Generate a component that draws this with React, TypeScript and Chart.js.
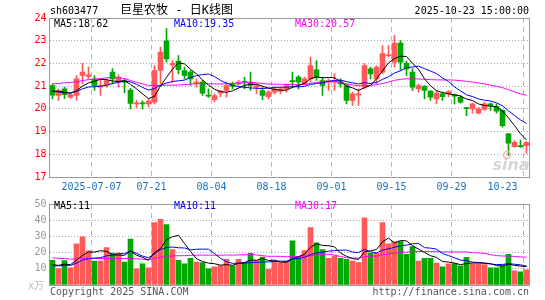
import React, { useEffect, useRef } from 'react';
import { Chart, registerables } from 'chart.js';

Chart.register(...registerables);

// ---------------- data ----------------
const stockCode = 'sh603477';
const chartTitle = '巨星农牧 - 日K线图';
const timestamp = '2025-10-23 15:00:00';

const dates = [
  '2025-06-26', '2025-06-27', '2025-06-30',
  '2025-07-01', '2025-07-02', '2025-07-03', '2025-07-04', '2025-07-07', '2025-07-08', '2025-07-09', '2025-07-10',
  '2025-07-11', '2025-07-14', '2025-07-15', '2025-07-16', '2025-07-17', '2025-07-18', '2025-07-21', '2025-07-22',
  '2025-07-23', '2025-07-24', '2025-07-25', '2025-07-28', '2025-07-29', '2025-07-30', '2025-07-31',
  '2025-08-01', '2025-08-04', '2025-08-05', '2025-08-06', '2025-08-07', '2025-08-08', '2025-08-11', '2025-08-12',
  '2025-08-13', '2025-08-14', '2025-08-15', '2025-08-18', '2025-08-19', '2025-08-20', '2025-08-21', '2025-08-22',
  '2025-08-25', '2025-08-26', '2025-08-27', '2025-08-28', '2025-08-29',
  '2025-09-01', '2025-09-02', '2025-09-03', '2025-09-04', '2025-09-05', '2025-09-08', '2025-09-09', '2025-09-10',
  '2025-09-11', '2025-09-12', '2025-09-15', '2025-09-16', '2025-09-17', '2025-09-18', '2025-09-19', '2025-09-22',
  '2025-09-23', '2025-09-24', '2025-09-25', '2025-09-26', '2025-09-29', '2025-09-30',
  '2025-10-09', '2025-10-10', '2025-10-13', '2025-10-14', '2025-10-15', '2025-10-16', '2025-10-17', '2025-10-20',
  '2025-10-21', '2025-10-22', '2025-10-23',
];

const opens = [
  21.03, 20.59, 20.88, 20.51, 20.59, 21.47, 21.43, 21.32, 20.96, 21.03,
  21.62, 21.18, 21.25, 20.83, 20.22, 20.25, 20.22, 20.29, 21.69, 23.00,
  21.93, 22.10, 21.69, 21.62, 21.12, 21.18, 20.60, 20.40, 20.69, 20.81,
  21.07, 21.10, 21.20, 21.18, 20.96, 20.81, 20.54, 20.74, 20.78, 20.88,
  21.24, 21.40, 21.10, 21.32, 21.72, 21.25, 21.18, 21.18, 21.20, 21.03,
  20.37, 20.60, 20.96, 21.76, 21.32, 21.62, 22.34, 22.06, 22.90, 22.00,
  21.62, 20.88, 20.99, 20.78, 20.44, 20.66, 20.66, 20.62, 20.51, 20.04,
  20.00, 19.81, 19.97, 20.22, 20.10, 19.93, 18.90, 18.34, 18.37, 18.38,
];
const highs = [
  21.10, 20.88, 20.95, 20.66, 21.47, 22.00, 21.84, 21.47, 21.32, 21.32,
  21.77, 21.50, 21.30, 20.90, 20.37, 20.35, 20.44, 21.91, 22.72, 23.53,
  22.13, 22.35, 21.84, 21.69, 21.32, 21.25, 20.88, 20.66, 20.81, 21.18,
  21.18, 21.25, 21.40, 21.62, 21.10, 20.96, 20.81, 20.96, 20.96, 21.10,
  21.62, 21.47, 21.40, 22.28, 22.13, 21.40, 21.32, 21.55, 21.32, 21.10,
  20.74, 20.88, 21.99, 21.84, 21.91, 22.79, 22.79, 23.24, 23.01, 22.10,
  21.77, 21.10, 21.03, 20.81, 20.81, 20.74, 20.81, 20.66, 20.59, 20.04,
  20.25, 20.07, 20.29, 20.25, 20.22, 19.96, 18.92, 18.60, 18.62, 18.56,
];
const lows = [
  20.44, 20.37, 20.45, 20.46, 20.37, 21.10, 21.32, 20.81, 20.59, 20.96,
  21.10, 20.96, 20.70, 20.00, 20.04, 20.00, 20.07, 20.22, 21.10, 22.06,
  21.18, 21.54, 21.32, 21.03, 20.96, 20.59, 20.50, 20.30, 20.54, 20.51,
  20.88, 21.03, 20.88, 20.81, 20.66, 20.40, 20.44, 20.66, 20.66, 20.74,
  20.96, 20.88, 21.07, 21.18, 21.25, 20.59, 20.81, 20.81, 20.96, 20.22,
  20.15, 20.15, 20.88, 21.32, 21.10, 21.54, 22.28, 21.84, 21.69, 21.47,
  20.81, 20.74, 20.44, 20.37, 20.22, 20.37, 20.54, 20.22, 20.25, 19.70,
  19.81, 19.78, 19.93, 19.93, 19.81, 19.19, 17.95, 18.31, 18.30, 18.04,
];
const closes = [
  20.60, 20.81, 20.63, 20.63, 21.32, 21.62, 21.50, 21.03, 21.03, 21.25,
  21.32, 21.40, 21.18, 20.24, 20.27, 20.22, 20.34, 21.69, 22.50, 22.20,
  22.00, 21.72, 21.47, 21.32, 21.18, 20.69, 20.56, 20.59, 20.78, 21.03,
  21.00, 21.18, 21.17, 21.03, 21.03, 20.59, 20.74, 20.88, 20.88, 21.03,
  21.20, 21.18, 21.32, 21.91, 21.40, 21.03, 21.25, 21.25, 21.10, 20.37,
  20.66, 20.66, 21.91, 21.54, 21.84, 22.43, 22.37, 22.90, 22.06, 21.76,
  20.96, 21.03, 20.81, 20.51, 20.69, 20.54, 20.76, 20.56, 20.29, 20.01,
  20.22, 20.00, 20.22, 20.15, 19.90, 19.26, 18.49, 18.53, 18.34, 18.53,
];
// volume, unit 万
const volumes = [
  15.3, 10.2, 15.1, 10.6, 25.4, 29.8, 21.1, 14.8, 14.8, 23.1,
  19.7, 19.7, 14.2, 28.4, 10.0, 13.0, 10.6, 38.5, 40.5, 37.3,
  21.9, 15.3, 13.0, 16.5, 14.2, 13.8, 10.0, 11.2, 12.0, 15.9,
  11.8, 15.9, 13.8, 19.5, 15.3, 17.3, 9.6, 14.8, 13.8, 14.8,
  27.2, 17.3, 21.3, 35.5, 26.0, 21.9, 16.5, 17.9, 16.5, 15.9,
  14.8, 13.8, 41.5, 19.5, 19.9, 38.5, 25.4, 26.6, 26.8, 18.9,
  23.7, 14.8, 16.5, 16.5, 13.6, 11.2, 13.0, 13.2, 11.8, 17.1,
  13.0, 13.0, 12.6, 10.6, 10.6, 11.8, 18.9, 8.8, 8.2, 9.4,
];
// sessions before the visible window (estimated), used only for the moving averages
const priorCloses = [
  20.1, 20.0, 20.2, 20.3, 20.1, 20.2, 20.4, 20.3, 20.2,
  21.0, 21.6, 22.3, 22.8, 22.6, 22.4, 22.5, 22.2, 21.9, 21.8, 22.0,
  21.5, 21.0, 20.7, 20.6, 20.5,
  20.7, 20.9, 20.8, 20.8,
];
const priorVolumes = [
  16, 22, 18, 25, 20, 17, 15, 19, 24, 21, 18, 16, 20, 23, 19, 17, 18, 20, 17, 17,
  11.0, 12.0, 10.5, 11.5, 11.5,
  12.0, 11.5, 12.2, 11.5,
];

const priceTicks = [17, 18, 19, 20, 21, 22, 23, 24];
const volumeTicks = [0, 10, 20, 30, 40, 50];
const labelIndexes = [7, 17, 27, 37, 47, 57, 67, 79];
const maPeriods = [5, 10, 30];
const priceLegend = ['MA5:18.62', 'MA10:19.35', 'MA30:20.57'];
const volumeLegend = ['MA5:11', 'MA10:11', 'MA30:17'];
const volumeUnit = 'x万';
const copyright = 'Copyright 2025 SINA.COM';
const siteUrl = 'http://finance.sina.com.cn';

// ---------------- styling ----------------
const W = 545;
const MAIN_H = 195;
const VOL_H = 105;
const PLOT_LEFT = 49.5;
const RIGHT_PAD = 15.5;
const MONO = '"DejaVu Sans Mono", monospace';
const UP = '#ff5a5a';
const DOWN = '#00a800';
const MA_COLORS = ['#000000', '#0000ff', '#ff00ff'];
const LEGEND_X = [54, 174, 295];

function movingAverage(values: number[], prior: number[], n: number): number[] {
  const all = [...prior, ...values];
  return values.map((_, i) => {
    const end = prior.length + i;
    let s = 0;
    for (let k = end - n + 1; k <= end; k++) s += all[k];
    return s / n;
  });
}

const xOf = (i: number) => i + 0.5;
const candleColors = opens.map((o, i) => (closes[i] >= o ? UP : DOWN));

function xScale() {
  return {
    type: 'linear',
    min: 0,
    max: dates.length,
    offset: false,
    afterBuildTicks: (s: any) => {
      s.ticks = labelIndexes.map((v) => ({ value: v }));
    },
    afterFit: (s: any) => {
      s.height = 0;
    },
    ticks: { display: false },
    grid: { color: '#b8b8b8', drawTicks: false, offset: false, lineWidth: 1 },
    border: { display: true, color: '#999999', dash: [5, 4] },
  };
}

function yScale(min: number, max: number, ticks: number[], color: string, hideZero: boolean) {
  return {
    type: 'linear',
    min,
    max,
    beginAtZero: false,
    afterBuildTicks: (s: any) => {
      s.ticks = ticks.map((v) => ({ value: v }));
    },
    afterFit: (s: any) => {
      s.width = PLOT_LEFT;
    },
    ticks: {
      color,
      padding: 3,
      font: { family: '"DejaVu Sans Mono", monospace', size: 10 },
      callback: (v: any) => (hideZero && v === 0 ? '' : String(v)),
    },
    grid: { color: '#aaaaaa', drawTicks: false, lineWidth: 1 },
    border: { display: true, color: '#999999', dash: [1, 2] },
  };
}

function drawFrame(ctx: CanvasRenderingContext2D, a: any) {
  const l = Math.round(a.left - 0.5) + 0.5;
  const r = Math.round(a.right - 0.5) + 0.5;
  const t = Math.round(a.top - 0.5) + 0.5;
  const b = Math.round(a.bottom - 0.5) + 0.5;
  ctx.setLineDash([]);
  ctx.strokeStyle = '#999999';
  ctx.lineWidth = 1;
  ctx.strokeRect(l, t, r - l, b - t);
}

const mainDecor = {
  id: 'mainDecor',
  afterDraw(chart: any) {
    const { ctx, chartArea: a } = chart;
    const xs = chart.scales.x;
    ctx.save();
    drawFrame(ctx, a);
    ctx.textBaseline = 'middle';
    ctx.font = `10px ${MONO}`;
    ctx.fillStyle = '#000000';
    ctx.textAlign = 'left';
    ctx.fillText(stockCode, 50, 11);
    ctx.textAlign = 'right';
    ctx.fillText(timestamp, 529, 11);
    ctx.textAlign = 'left';
    ctx.font = '12px "DejaVu Sans Mono", "Noto Sans CJK SC", sans-serif';
    ctx.fillText(chartTitle, 120, 11);
    ctx.font = `10px ${MONO}`;
    priceLegend.forEach((t, k) => {
      ctx.fillStyle = MA_COLORS[k];
      ctx.fillText(t, LEGEND_X[k], 24);
    });
    // date labels
    ctx.fillStyle = '#1b6fc2';
    ctx.textAlign = 'center';
    labelIndexes.forEach((idx, k) => {
      const text = k === 0 ? dates[idx] : dates[idx].slice(5);
      const px = xs.getPixelForValue(idx);
      const w = ctx.measureText(text).width;
      let cx = px;
      if (px + w / 2 > a.right) cx = a.right - 12 - w / 2;
      ctx.fillText(text, cx, 187);
    });
    // watermark
    ctx.fillStyle = '#d6d6d6';
    ctx.font = 'italic bold 16px "DejaVu Sans", sans-serif';
    ctx.textAlign = 'center';
    ctx.fillText('sina', 511, 166);
    ctx.strokeStyle = '#f0b4b4';
    ctx.lineWidth = 1.5;
    ctx.beginPath();
    ctx.arc(507, 155, 3.5, 0, Math.PI * 2);
    ctx.stroke();
    ctx.restore();
  },
};

const volDecor = {
  id: 'volDecor',
  afterDraw(chart: any) {
    const { ctx, chartArea: a } = chart;
    ctx.save();
    drawFrame(ctx, a);
    ctx.textBaseline = 'middle';
    ctx.font = `10px ${MONO}`;
    ctx.textAlign = 'left';
    volumeLegend.forEach((t, k) => {
      ctx.fillStyle = MA_COLORS[k];
      ctx.fillText(t, LEGEND_X[k], 11);
    });
    ctx.fillStyle = '#bbbbbb';
    ctx.font = '10px "DejaVu Sans Mono", "Noto Sans CJK SC", sans-serif';
    ctx.fillText(volumeUnit, 28, 91);
    ctx.fillStyle = '#555555';
    ctx.font = `10px ${MONO}`;
    ctx.fillText(copyright, 50, 97.5);
    ctx.textAlign = 'right';
    ctx.fillText(siteUrl, 529, 97.5);
    ctx.restore();
  },
};

function maDatasets(values: number[], prior: number[]) {
  return maPeriods.map((n, k) => ({
    type: 'line',
    data: movingAverage(values, prior, n).map((v, i) => ({ x: xOf(i), y: v })),
    borderColor: MA_COLORS[k],
    borderWidth: 1,
    pointRadius: 0,
    tension: 0,
    order: 0,
  }));
}

function mainConfig(): any {
  return {
    type: 'bar',
    data: {
      datasets: [
        {
          type: 'bar',
          data: dates.map((_, i) => ({ x: xOf(i), y: [lows[i], highs[i]] })),
          backgroundColor: candleColors,
          barThickness: 1,
          grouped: false,
          order: 2,
        },
        {
          type: 'bar',
          data: dates.map((_, i) => ({
            x: xOf(i),
            y: [Math.min(opens[i], closes[i]), Math.max(opens[i], closes[i])],
          })),
          backgroundColor: candleColors,
          barThickness: 5,
          minBarLength: 1,
          grouped: false,
          order: 1,
        },
        ...maDatasets(closes, priorCloses),
      ],
    },
    options: {
      responsive: false,
      animation: false,
      devicePixelRatio: 1,
      events: [],
      layout: { padding: { left: 0, right: RIGHT_PAD, top: 18, bottom: 18 } },
      plugins: { legend: { display: false }, tooltip: { enabled: false }, title: { display: false } },
      scales: {
        x: xScale(),
        y: yScale(17, 24, priceTicks, '#ff0000', false),
      },
    },
    plugins: [mainDecor],
  };
}

function volConfig(): any {
  return {
    type: 'bar',
    data: {
      datasets: [
        {
          type: 'bar',
          data: dates.map((_, i) => ({ x: xOf(i), y: volumes[i] })),
          backgroundColor: candleColors,
          barThickness: 5,
          grouped: false,
          order: 1,
        },
        ...maDatasets(volumes, priorVolumes),
      ],
    },
    options: {
      responsive: false,
      animation: false,
      devicePixelRatio: 1,
      events: [],
      layout: { padding: { left: 0, right: RIGHT_PAD, top: 6, bottom: 15 } },
      plugins: { legend: { display: false }, tooltip: { enabled: false }, title: { display: false } },
      scales: {
        x: xScale(),
        y: yScale(0, 50, volumeTicks, '#999999', true),
      },
    },
    plugins: [volDecor],
  };
}

export default function App() {
  const mainRef = useRef<HTMLCanvasElement>(null);
  const volRef = useRef<HTMLCanvasElement>(null);
  useEffect(() => {
    const main = new Chart(mainRef.current as HTMLCanvasElement, mainConfig());
    const vol = new Chart(volRef.current as HTMLCanvasElement, volConfig());
    return () => {
      main.destroy();
      vol.destroy();
    };
  }, []);
  return (
    <div style={{ position: 'fixed', left: 0, top: 0, width: W, height: 300, background: '#ffffff' }}>
      <canvas
        ref={mainRef}
        width={W}
        height={MAIN_H}
        style={{ position: 'absolute', left: 0, top: 0, width: W, height: MAIN_H }}
      />
      <canvas
        ref={volRef}
        width={W}
        height={VOL_H}
        style={{ position: 'absolute', left: 0, top: MAIN_H, width: W, height: VOL_H }}
      />
    </div>
  );
}
